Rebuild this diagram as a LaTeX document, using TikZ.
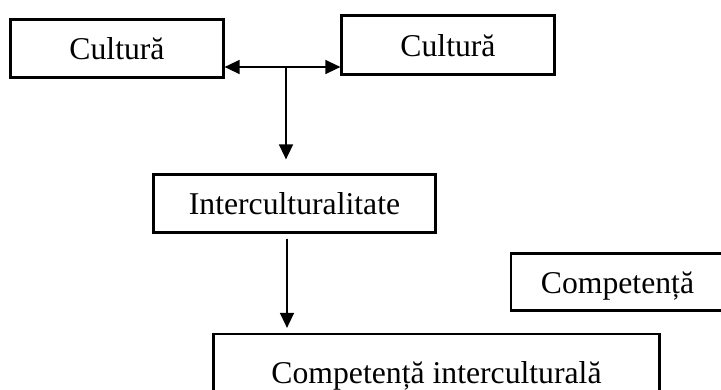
\documentclass[tikz,border=0pt]{standalone}
\usepackage{fontspec}
\setmainfont{Liberation Serif}
\usetikzlibrary{arrows.meta}
\tikzset{
  box/.style={draw, rectangle, line width=2.2pt, inner sep=0pt,
    text height=22pt, text depth=0pt, font=\fontsize{31.7}{38}\selectfont},
  link/.style={line width=1.4pt, -{Triangle[length=15pt,width=14pt]}},
  both/.style={line width=1.4pt, {Triangle[length=15pt,width=14pt]}-{Triangle[length=15pt,width=14pt]}}
}
\begin{document}
\begin{tikzpicture}[x=1pt,y=-1pt]
  \useasboundingbox (0,0) rectangle (721,389);
  \node[box, minimum width=213pt, minimum height=58pt] (cult1) at (117,48.5) {Cultură};
  \node[box, minimum width=213pt, minimum height=59pt] (cult2) at (448,45) {Cultură};
  \node[box, minimum width=282pt, minimum height=58pt] (inter) at (294.5,203.5) {Interculturalitate};
  \node[box, minimum width=213pt, minimum height=57pt] (comp) at (617.5,282) {Competență};
  \node[box, minimum width=446pt, minimum height=76pt] (compint) at (436.5,372) {Competență interculturală};
  \coordinate (mid) at (286,67);
  \draw[both] (cult1.east |- mid) -- (cult2.west |- mid);
  \draw[link, shorten >=14pt] (mid) -- (mid |- inter.north);
  \draw[link, shorten <=5pt, shorten >=5pt] ([xshift=-7.5pt]inter.south) -- ([xshift=-7.5pt]inter.south |- compint.north);
\end{tikzpicture}
\end{document}
